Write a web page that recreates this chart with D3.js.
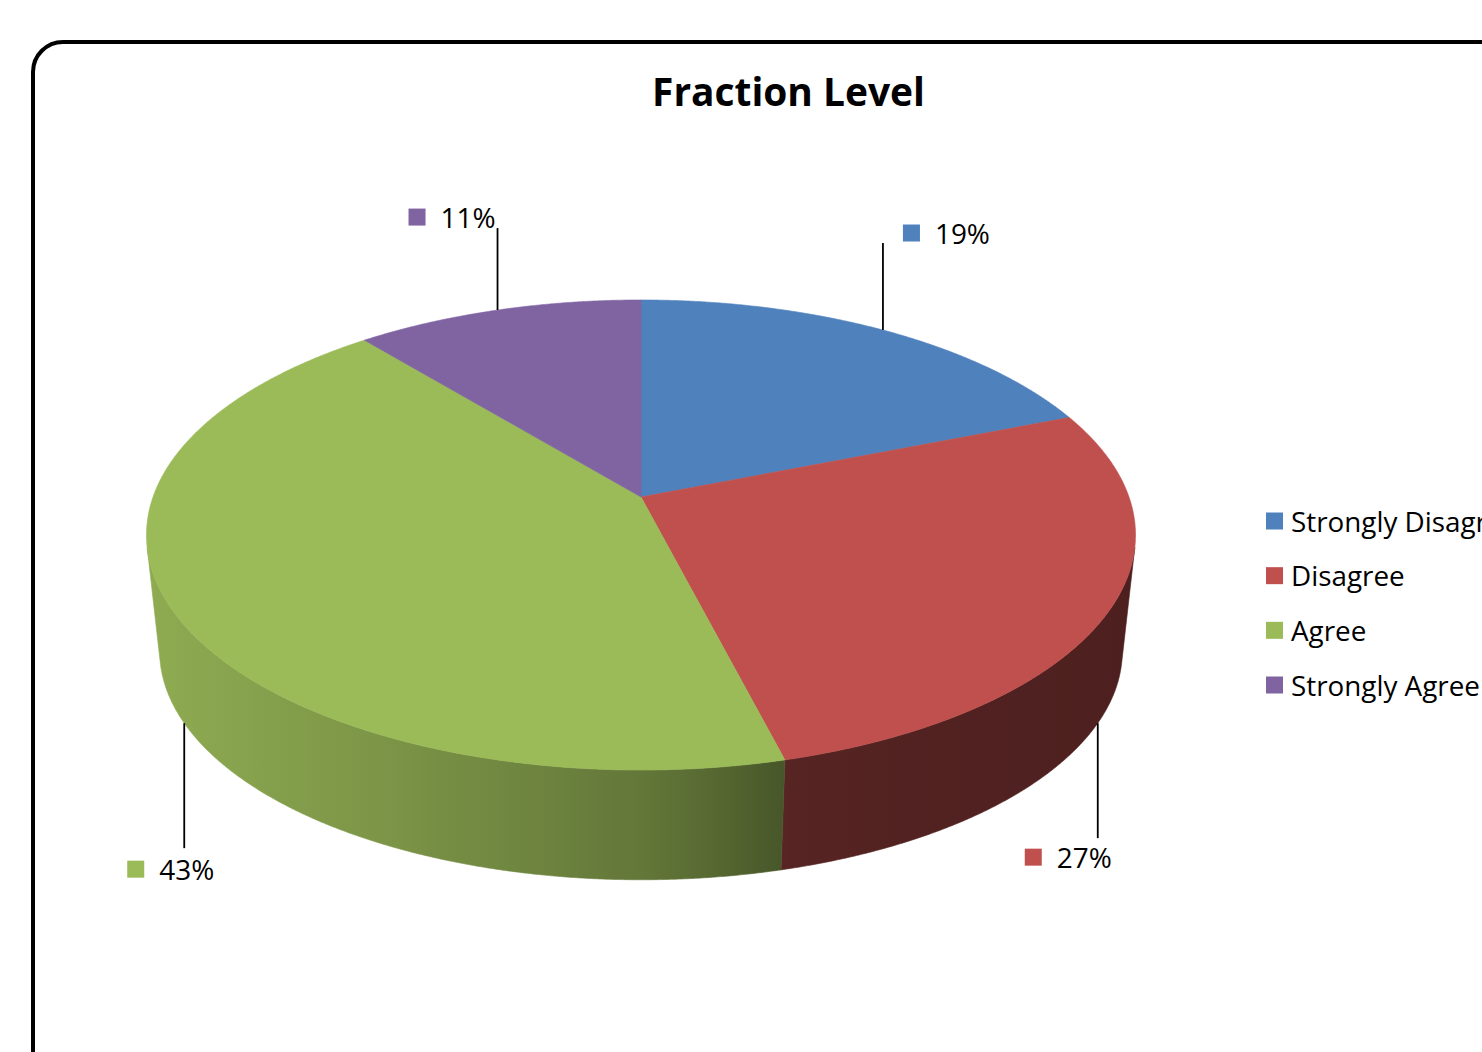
<!DOCTYPE html>
<html><head><meta charset="utf-8">
<script src="https://cdn.jsdelivr.net/npm/d3@7"></script>
<style>body{margin:0;background:#fff;overflow:hidden}svg{display:block}</style>
</head><body><svg id="c" width="1482" height="1052"></svg>
<script>
// ---- data ----
const categories = ["Strongly Disagree", "Disagree", "Agree", "Strongly Agree"];
const values = [19, 27, 43, 11];
const pctLabels = ["19%", "27%", "43%", "11%"];
const colors = ["#4f81bd", "#c0504d", "#9bbb59", "#8064a2"];
const title = "Fraction Level";

// ---- layout (not data) ----
const labelLayout = [
  {face: "top", len: -87, dx: 20, dy: -10},
  {face: "bot", len: 115, dx: -73, dy: 19},
  {face: "bot", len: 125, dx: -57, dy: 21},
  {face: "top", len: -82, dx: -89, dy: -11}
];

const svg = d3.select("#c");
const FONT = "'Open Sans', 'DejaVu Sans', sans-serif";

// frame
svg.append("rect").attr("x", 33).attr("y", 42).attr("width", 1700).attr("height", 1200)
  .attr("rx", 30).attr("fill", "#fff").attr("stroke", "#000").attr("stroke-width", 4);

// perspective projection of a circle
const cx = 641, k = 0.1617;
const topP = {A: 488, B: 228.9, cy: 497};
const botP = {A: 475, B: 222.8, cy: 614};
function proj(p, phi) {
  const u = Math.sin(phi), v = -Math.cos(phi), d = 1 - k * v;
  return [cx + p.A * u / d, p.cy + p.B * v / d];
}

const arcs = d3.pie().sort(null).value(d => d)(values);

function orient(phi, dphi) {
  const q = [proj(topP, phi), proj(topP, phi + dphi), proj(botP, phi + dphi), proj(botP, phi)];
  let s = 0;
  for (let i = 0; i < 4; i++) { const a = q[i], b = q[(i + 1) % 4]; s += a[0] * b[1] - b[0] * a[1]; }
  return s;
}
const refSign = Math.sign(orient(Math.PI, 0.001));
let fr0 = null, fr1 = null;
for (let phi = 0; phi < 2 * Math.PI; phi += 0.001) {
  if (Math.sign(orient(phi, 0.001)) === refSign) { if (fr0 === null) fr0 = phi; fr1 = phi + 0.001; }
}

const defs = svg.append("defs");
const shade = d3.scaleLinear().domain([-1, -0.5, 0, 0.18, 0.3, 0.6, 1])
  .range([0.92, 0.79, 0.64, 0.54, 0.45, 0.42, 0.40]).clamp(true);
const gx0 = 140, gx1 = 1145;
colors.forEach((c, i) => {
  const g = defs.append("linearGradient").attr("id", "side" + i)
    .attr("gradientUnits", "userSpaceOnUse").attr("x1", gx0).attr("x2", gx1).attr("y1", 0).attr("y2", 0);
  const base = d3.rgb(c);
  d3.range(0, 41).forEach(j => {
    const t = j / 40, x = gx0 + t * (gx1 - gx0);
    const u = Math.max(-1, Math.min(1, (x - cx) / 494));
    const f = shade(u);
    g.append("stop").attr("offset", t)
      .attr("stop-color", d3.rgb(base.r * f, base.g * f, base.b * f).formatHex());
  });
});

const line = d3.line();
const sideG = svg.append("g");
arcs.forEach((a, i) => {
  const s = Math.max(a.startAngle, fr0), e = Math.min(a.endAngle, fr1);
  if (s >= e) return;
  const n = Math.max(8, Math.ceil((e - s) / 0.005));
  const pts = [];
  for (let j = 0; j <= n; j++) pts.push(proj(topP, s + (e - s) * j / n));
  for (let j = n; j >= 0; j--) pts.push(proj(botP, s + (e - s) * j / n));
  sideG.append("path").attr("d", line(pts) + "Z").attr("fill", `url(#side${i})`)
    .attr("stroke", `url(#side${i})`).attr("stroke-width", 0.6);
});

const topG = svg.append("g");
arcs.forEach((a, i) => {
  const n = Math.max(8, Math.ceil((a.endAngle - a.startAngle) / 0.005));
  const pts = [[cx, topP.cy]];
  for (let j = 0; j <= n; j++) pts.push(proj(topP, a.startAngle + (a.endAngle - a.startAngle) * j / n));
  topG.append("path").attr("d", line(pts) + "Z").attr("fill", colors[i])
    .attr("stroke", colors[i]).attr("stroke-width", 0.6);
});

function fitWidth(sel, target) {
  const w = sel.node().getComputedTextLength();
  const fs = parseFloat(sel.attr("font-size"));
  return fs * target / w;
}

const tt = svg.append("text").text(title).attr("x", 788.5).attr("y", 106)
  .attr("text-anchor", "middle").attr("font-family", FONT).attr("font-weight", "bold")
  .attr("font-size", 40).attr("fill", "#000");
tt.attr("font-size", fitWidth(tt, 273));

const probe = svg.append("text").text("19%").attr("font-family", FONT).attr("font-size", 28);
const labelFS = fitWidth(probe, 55);
probe.remove();
const labG = svg.append("g");
arcs.forEach((a, i) => {
  const L = labelLayout[i];
  const mid = (a.startAngle + a.endAngle) / 2;
  const p = proj(L.face === "top" ? topP : botP, mid);
  const ly = p[1] + L.len;
  labG.append("line").attr("x1", p[0]).attr("y1", p[1]).attr("x2", p[0]).attr("y2", ly)
    .attr("stroke", "#000").attr("stroke-width", 1.8);
  const gx = p[0] + L.dx, gy = ly + L.dy;
  labG.append("rect").attr("x", gx).attr("y", gy - 8.5).attr("width", 17).attr("height", 17).attr("fill", colors[i]);
  labG.append("text").text(pctLabels[i]).attr("x", gx + 32).attr("y", gy + 10.5)
    .attr("font-family", FONT).attr("font-size", labelFS).attr("fill", "#000");
});

const ly = d3.scaleLinear().domain([0, categories.length - 1]).range([521, 685]);
const probe2 = svg.append("text").text("Strongly Agree").attr("font-family", FONT).attr("font-size", 28);
const legFS = fitWidth(probe2, 189);
probe2.remove();
const legG = svg.append("g");
categories.forEach((c, i) => {
  legG.append("rect").attr("x", 1266).attr("y", ly(i) - 8.5).attr("width", 17).attr("height", 17).attr("fill", colors[i]);
  legG.append("text").text(c).attr("x", 1291).attr("y", ly(i) + 10.5)
    .attr("font-family", FONT).attr("font-size", legFS).attr("fill", "#000");
});
</script></body></html>
